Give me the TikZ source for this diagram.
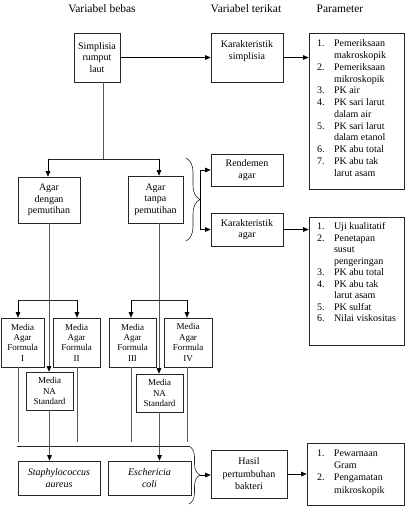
\documentclass[tikz,border=0pt]{standalone}
\usepackage{fontspec}
\setmainfont{Liberation Serif}
\usetikzlibrary{arrows.meta,decorations.pathreplacing}
\newcommand\Bx[7][]{\node[bxb,minimum width={(#5-#3)*1pt},minimum height={(#6-#4)*1pt},#1] (#2) at ({(#3+#5)/2},{(#4+#6)/2}) {#7};}
\newcommand\It[2]{\makebox[17pt][l]{#1}#2\par}
\newcommand\Ct[1]{\hspace*{17pt}#1\par}
\newcommand\Lst[6]{\parbox[c][#1][t]{#2}{\fontsize{10}{#5}\selectfont\raggedright\leftskip=#4\relax\vspace*{#3}#6}}
\tikzset{
  bxb/.style={draw=black!85, line width=0.6pt, inner sep=0pt},
  bx/.style={align=center, font=\fontsize{10}{11.6}\selectfont},
  bxs/.style={align=center, font=\fontsize{9}{10.4}\selectfont},
  hd/.style={font=\fontsize{11.5}{13}\selectfont, inner sep=0pt},
  arr/.style={line width=0.6pt, -{Triangle[length=5.5pt,width=4.5pt]}},
  garr/.style={line width=0.7pt, black!65, -{Triangle[length=5.5pt,width=4.5pt,color=black]}},
  ln/.style={line width=0.7pt, black!65},
  hl/.style={line width=0.6pt, black!85},
  brc/.style={line width=0.6pt, black!85, decorate},
}
\begin{document}
\begin{tikzpicture}[x=1pt,y=-1pt]
\useasboundingbox (0,0) rectangle (408,515);
% headers
\node[hd] (h1) at (102,9) {Variabel bebas};
\node[hd] (h2) at (246,9) {Variabel terikat};
\node[hd] (h3) at (340,9) {Parameter};
% boxes
\Bx[bx]{s}{74}{33}{120}{82}{Simplisia\\rumput\\laut}
\Bx{ks}{211}{33}{283}{82}{\parbox[c][49pt][t]{72pt}{\fontsize{10}{11.6}\selectfont\centering\vspace*{7.5pt}Karakteristik\\simplisia}}
\Bx{p1}{309}{33}{404}{189}{\Lst{156pt}{95pt}{7pt}{8pt}{11.75pt}{\It{1.}{Pemeriksaan}\Ct{makroskopik}\It{2.}{Pemeriksaan}\Ct{mikroskopik}\It{3.}{PK air}\It{4.}{PK sari larut}\Ct{dalam air}\It{5.}{PK sari larut}\Ct{dalam etanol}\It{6.}{PK abu total}\It{7.}{PK abu tak}\Ct{larut asam}}}
\Bx[bx]{ad}{18}{177}{80}{223}{Agar\\dengan\\pemutihan}
\Bx[bx]{at}{128}{176}{183}{223}{\raisebox{2pt}{\shortstack{Agar\\tanpa\\pemutihan}}}
\Bx[bx]{rend}{211}{154}{283}{186}{Rendemen\\agar}
\Bx[bx]{ka}{211}{213}{283}{246}{Karakteristik\\agar}
\Bx{p2}{309}{217}{404}{345}{\Lst{128pt}{95pt}{5.5pt}{8pt}{11.55pt}{\It{1.}{Uji kualitatif}\It{2.}{Penetapan}\Ct{susut}\Ct{pengeringan}\It{3.}{PK abu total}\It{4.}{PK abu tak}\Ct{larut asam}\It{5.}{PK sulfat}\It{6.}{Nilai viskositas}}}
\Bx[bxs]{f1}{1}{318}{44}{367}{Media\\Agar\\Formula\\I}
\Bx[bxs]{f2}{53}{318}{100}{367}{Media\\Agar\\Formula\\II}
\Bx[bxs]{f3}{109}{318}{156}{367}{Media\\Agar\\Formula\\III}
\Bx[bxs]{f4}{164}{318}{212}{367}{Media\\Agar\\Formula\\IV}
\Bx[bxs]{na1}{26}{372}{73}{410}{Media\\NA\\Standard}
\Bx[bxs]{na2}{136}{374}{183}{412}{Media\\NA\\Standard}
\Bx[bx,font=\fontsize{10}{12.5}\selectfont\itshape]{st}{18}{461}{100}{495}{Staphylococcus\\aureus}
\Bx[bx,font=\fontsize{10}{12.5}\selectfont\itshape]{ec}{108}{461}{191}{495}{Eschericia\\coli}
\Bx[bx,font=\fontsize{10}{12.5}\selectfont]{ha}{211}{450}{287}{498}{Hasil\\pertumbuhan\\bakteri}
\Bx{p3}{307}{443}{404}{505}{\Lst{62pt}{97pt}{6.5pt}{10pt}{12.3pt}{\It{1.}{Pewarnaan}\Ct{Gram}\It{2.}{Pengamatan}\Ct{mikroskopik}}}
% coordinates
\coordinate (j1) at (103,159);
\coordinate (jl) at (48,159);
\coordinate (jr) at (159,159);
\coordinate (br1t) at (186,158);
\coordinate (br1b) at (186,241);
\coordinate (b1) at (200,199.5);
\coordinate (fa) at (18,300);
\coordinate (fb) at (77,300);
\coordinate (fc) at (131,300);
\coordinate (fd) at (187,300);
\coordinate (bt) at (0,442);
\coordinate (hl) at (17,446);
\coordinate (br2t) at (189,446);
\coordinate (br2b) at (189,504);
\coordinate (b2) at (200,475);
% connectors
\draw[arr] (s.east) -- (ks.west);
\draw[arr] (ks.east) -- (ks.east -| p1.west);
\draw[ln] (s.south -| j1) -- (j1);
\draw[hl] (jl) -- (jr);
\draw[arr] (jl) -- (jl |- ad.north);
\draw[arr] (jr) -- (jr |- at.north);
\draw[brc, decoration={brace, amplitude=14pt}] (br1t) -- (br1b);
\draw[arr] (b1) |- (rend.west);
\draw[arr] (b1) |- (ka.west);
\draw[arr] (ka.east) -- (ka.east -| p2.west);
\draw[garr] (ad.south) -- (ad.south |- na1.north);
\draw[garr] (jr |- at.south) -- (jr |- na2.north);
\draw[hl] (fa) -- (fb);
\draw[arr] (fa) -- (fa |- f1.north);
\draw[arr] (fb) -- (fb |- f2.north);
\draw[hl] (fc) -- (fd);
\draw[arr] (fc) -- (fc |- f3.north);
\draw[arr] (fd) -- (fd |- f4.north);
\draw[ln] (fa |- f1.south) -- (fa |- bt);
\draw[ln] (fb |- f2.south) -- (fb |- bt);
\draw[ln] (fc |- f3.south) -- (fc |- bt);
\draw[ln] (fd |- f4.south) -- (fd |- bt);
\draw[garr] (na1.south) -- (na1.south |- st.north);
\draw[garr] (na2.south) -- (na2.south |- ec.north);
\draw[hl] (hl) -- (br2t);
\draw[brc, decoration={brace, amplitude=11pt}] (br2t) -- (br2b);
\draw[arr] (b2) -- (b2 -| ha.west);
\draw[arr] (ha.east) -- (ha.east -| p3.west);
\end{tikzpicture}
\end{document}
